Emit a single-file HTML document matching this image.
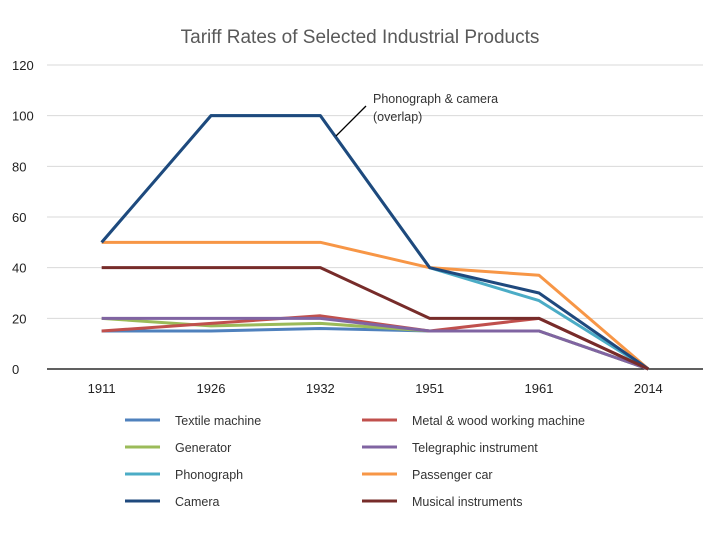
<!DOCTYPE html>
<html><head><meta charset="utf-8"><style>
body{margin:0;background:#fff;}
svg{display:block;font-family:"Liberation Sans",sans-serif;}
</style></head><body>
<svg id="c" width="720" height="540">
<text x="360" y="43" text-anchor="middle" font-size="19" fill="#595959">Tariff Rates of Selected Industrial Products</text>
<g id="grid"></g><g id="lines"></g><g id="legend"></g>
<line x1="336" y1="136" x2="366" y2="106" stroke="#000" stroke-width="1.3"/>
<text x="373" y="103" font-size="12.5" fill="#333">Phonograph &amp; camera</text>
<text x="373" y="121" font-size="12.5" fill="#333">(overlap)</text>
</svg>
<script>
const categories=["1911","1926","1932","1951","1961","2014"];
const yTicks=[0,20,40,60,80,100,120];
const seriesNames=["Textile machine","Metal & wood working machine","Generator","Telegraphic instrument","Phonograph","Passenger car","Camera","Musical instruments"];
const textile=[15,15,16,15,15,0];
const metal=[15,18,21,15,20,0];
const generator=[20,17,18,15,15,0];
const telegraph=[20,20,20,15,15,0];
const phonograph=[50,100,100,40,27,0];
const car=[50,50,50,40,37,0];
const camera=[50,100,100,40,30,0];
const musical=[40,40,40,20,20,0];
const colors=["#4F81BD","#C0504D","#9BBB59","#8064A2","#4BACC6","#F79646","#1F497D","#772C2A"];
const allSeries=[textile,metal,generator,telegraph,phonograph,car,camera,musical];
const drawOrder=[0,2,1,3,4,5,6,7];
const NS="http://www.w3.org/2000/svg";
const L=47,R=703,Y0=369,Y1=65;
const x=i=>L+(R-L)/categories.length*(i+0.5);
const y=v=>Y0-(Y0-Y1)*v/120;
function mk(t,a,p){const e=document.createElementNS(NS,t);for(const k in a)e.setAttribute(k,a[k]);p.appendChild(e);return e;}
const g=document.getElementById('grid');
yTicks.forEach(v=>{
 const ln=mk('line',{x1:L,x2:R,y1:y(v),y2:y(v),stroke:v===0?'#000':'#d9d9d9','stroke-width':v===0?1.3:1},g);
 
 
 const t=mk('text',{x:12,y:y(v)+5,'font-size':13,fill:'#222'},g);t.textContent=v;
 
 
});
categories.forEach((c,i)=>{
 const t=mk('text',{x:x(i),y:393,'text-anchor':'middle','font-size':13,fill:'#222'},g);t.textContent=c;
 
 
});
const lg=document.getElementById('lines');
drawOrder.forEach(s=>{
 const pts=allSeries[s].map((v,i)=>x(i)+','+y(v)).join(' ');
 const p=mk('polyline',{points:pts,fill:'none',stroke:colors[s],'stroke-width':3,'stroke-linejoin':'round'},lg);
 
 
});
const le=document.getElementById('legend');
seriesNames.forEach((n,i)=>{
 const col=i%2,row=Math.floor(i/2);
 const lx=col?362:125,ly=420+row*27;
 const ln=mk('line',{x1:lx,x2:lx+35,y1:ly,y2:ly,stroke:colors[i],'stroke-width':3},le);
 
 
 const t=mk('text',{x:lx+50,y:ly+5,'font-size':12.5,fill:'#333'},le);t.textContent=n;
 
 
});
</script>
</body></html>
